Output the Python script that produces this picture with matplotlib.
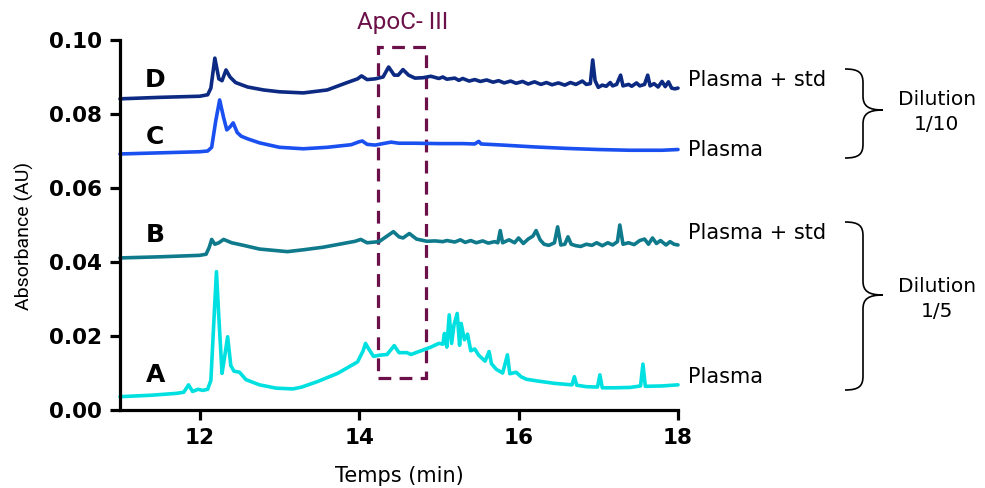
import matplotlib
matplotlib.use("Agg")
import matplotlib.pyplot as plt
from matplotlib.patches import Rectangle, PathPatch
from matplotlib.path import Path

# ---------------- data ----------------
d_time = [11.00, 11.50, 12.00, 12.10, 12.14, 12.19, 12.24, 12.28, 12.33, 12.38, 12.45, 12.60,
          12.80, 13.00, 13.30, 13.60, 13.85, 13.98, 14.03, 14.10, 14.20, 14.30, 14.37, 14.44,
          14.49, 14.55, 14.62, 14.70, 14.80, 14.90, 15.00, 15.05, 15.10, 15.20, 15.25, 15.30,
          15.38, 15.45, 15.52, 15.60, 15.68, 15.75, 15.82, 15.90, 15.97, 16.05, 16.12, 16.20,
          16.28, 16.35, 16.42, 16.50, 16.58, 16.65, 16.72, 16.80, 16.85, 16.90, 16.93, 16.96,
          17.00, 17.05, 17.10, 17.15, 17.18, 17.23, 17.28, 17.31, 17.38, 17.42, 17.48, 17.52,
          17.58, 17.62, 17.65, 17.70, 17.75, 17.80, 17.84, 17.88, 17.92, 17.96, 18.00]
d_abs = [0.0841, 0.0845, 0.0848, 0.0852, 0.0870, 0.0951, 0.0895, 0.0890, 0.0919, 0.0900, 0.0885, 0.0873,
         0.0865, 0.0860, 0.0857, 0.0865, 0.0885, 0.0895, 0.0903, 0.0893, 0.0895, 0.0900, 0.0927, 0.0905,
         0.0905, 0.0920, 0.0905, 0.0897, 0.0898, 0.0902, 0.0896, 0.0900, 0.0894, 0.0897, 0.0891, 0.0896,
         0.0889, 0.0893, 0.0888, 0.0892, 0.0886, 0.0890, 0.0884, 0.0889, 0.0883, 0.0888, 0.0881, 0.0887,
         0.0880, 0.0885, 0.0879, 0.0884, 0.0878, 0.0885, 0.0880, 0.0889, 0.0880, 0.0882, 0.0946, 0.0890,
         0.0872, 0.0878, 0.0875, 0.0885, 0.0876, 0.0880, 0.0905, 0.0876, 0.0880, 0.0875, 0.0884, 0.0876,
         0.0880, 0.0905, 0.0876, 0.0882, 0.0873, 0.0888, 0.0874, 0.0887, 0.0870, 0.0868, 0.0870]

c_time = [11.00, 11.50, 12.00, 12.10, 12.15, 12.20, 12.25, 12.30, 12.34, 12.38, 12.42, 12.47,
          12.52, 12.60, 12.75, 13.00, 13.30, 13.60, 13.90, 14.00, 14.04, 14.10, 14.20, 14.30,
          14.40, 14.50, 14.70, 15.00, 15.30, 15.45, 15.50, 15.53, 15.80, 16.20, 16.60, 17.00,
          17.40, 17.80, 18.00]
c_abs = [0.0692, 0.0695, 0.0698, 0.0700, 0.0710, 0.0780, 0.0838, 0.0790, 0.0757, 0.0765, 0.0776, 0.0750,
         0.0740, 0.0733, 0.0722, 0.0710, 0.0706, 0.0710, 0.0717, 0.0725, 0.0727, 0.0718, 0.0716, 0.0720,
         0.0724, 0.0721, 0.0721, 0.0720, 0.0720, 0.0719, 0.0726, 0.0719, 0.0716, 0.0711, 0.0707, 0.0704,
         0.0702, 0.0702, 0.0704]

b_time = [11.00, 11.50, 12.00, 12.08, 12.12, 12.15, 12.19, 12.24, 12.30, 12.40, 12.55, 12.75,
          13.00, 13.10, 13.30, 13.55, 13.80, 13.95, 14.02, 14.10, 14.25, 14.35, 14.43, 14.50,
          14.55, 14.63, 14.72, 14.85, 14.95, 15.05, 15.10, 15.20, 15.27, 15.33, 15.40, 15.47,
          15.55, 15.62, 15.70, 15.74, 15.77, 15.80, 15.88, 15.95, 16.00, 16.06, 16.12, 16.18,
          16.22, 16.27, 16.32, 16.38, 16.45, 16.49, 16.53, 16.58, 16.62, 16.66, 16.72, 16.78,
          16.85, 16.92, 16.98, 17.05, 17.12, 17.18, 17.24, 17.27, 17.31, 17.38, 17.45, 17.52,
          17.58, 17.63, 17.68, 17.73, 17.78, 17.85, 17.90, 17.95, 18.00]
b_abs = [0.0411, 0.0414, 0.0418, 0.0421, 0.0440, 0.0461, 0.0448, 0.0452, 0.0461, 0.0452, 0.0445, 0.0435,
         0.0430, 0.0428, 0.0433, 0.0440, 0.0450, 0.0456, 0.0461, 0.0452, 0.0455, 0.0470, 0.0482, 0.0468,
         0.0465, 0.0477, 0.0462, 0.0456, 0.0457, 0.0455, 0.0458, 0.0454, 0.0460, 0.0453, 0.0458, 0.0452,
         0.0457, 0.0451, 0.0455, 0.0452, 0.0485, 0.0452, 0.0460, 0.0452, 0.0465, 0.0450, 0.0462, 0.0470,
         0.0485, 0.0460, 0.0448, 0.0445, 0.0452, 0.0495, 0.0446, 0.0448, 0.0468, 0.0448, 0.0444, 0.0442,
         0.0448, 0.0445, 0.0452, 0.0444, 0.0452, 0.0446, 0.0455, 0.0500, 0.0448, 0.0452, 0.0447, 0.0458,
         0.0462, 0.0448, 0.0465, 0.0450, 0.0458, 0.0446, 0.0455, 0.0448, 0.0446]

a_time = [11.00, 11.40, 11.71, 11.80, 11.86, 11.91, 11.98, 12.04, 12.10, 12.14, 12.18, 12.21,
          12.24, 12.28, 12.31, 12.35, 12.39, 12.43, 12.50, 12.58, 12.75, 12.96, 13.17, 13.28,
          13.48, 13.73, 13.98, 14.05, 14.08, 14.12, 14.18, 14.25, 14.35, 14.44, 14.50, 14.60,
          14.65, 14.80, 14.90, 15.00, 15.05, 15.07, 15.10, 15.13, 15.16, 15.19, 15.23, 15.26,
          15.28, 15.32, 15.36, 15.40, 15.45, 15.50, 15.58, 15.63, 15.66, 15.72, 15.80, 15.86,
          15.89, 15.97, 16.03, 16.10, 16.25, 16.45, 16.67, 16.70, 16.73, 16.85, 16.99, 17.02,
          17.05, 17.20, 17.40, 17.53, 17.56, 17.59, 17.80, 18.00]
a_abs = [0.0036, 0.0040, 0.0045, 0.0048, 0.0068, 0.0050, 0.0056, 0.0053, 0.0056, 0.0080, 0.0250, 0.0374,
         0.0250, 0.0099, 0.0140, 0.0198, 0.0120, 0.0105, 0.0102, 0.0082, 0.0068, 0.0059, 0.0057, 0.0062,
         0.0077, 0.0099, 0.0130, 0.0160, 0.0180, 0.0165, 0.0145, 0.0148, 0.0150, 0.0174, 0.0155, 0.0155,
         0.0150, 0.0162, 0.0170, 0.0180, 0.0178, 0.0207, 0.0170, 0.0257, 0.0180, 0.0230, 0.0261, 0.0175,
         0.0234, 0.0190, 0.0205, 0.0160, 0.0165, 0.0148, 0.0132, 0.0158, 0.0125, 0.0110, 0.0100, 0.0149,
         0.0098, 0.0102, 0.0090, 0.0083, 0.0078, 0.0072, 0.0068, 0.0090, 0.0067, 0.0063, 0.0062, 0.0095,
         0.0060, 0.0060, 0.0061, 0.0065, 0.0124, 0.0064, 0.0065, 0.0068]

series_names = ["D", "C", "B", "A"]
series_labels = ["Plasma + std", "Plasma", "Plasma + std", "Plasma"]
series_colors = ["#0c2a82", "#1a4ff0", "#0e7a8c", "#00e0e0"]
letter_y = [0.0892, 0.0738, 0.0473, 0.0095]
label_y = [0.0892, 0.0703, 0.0478, 0.0089]
apoc_window = (14.24, 14.84)
apoc_range = (0.0087, 0.0981)
x_ticks = [12, 14, 16, 18]
y_ticks = [0.00, 0.02, 0.04, 0.06, 0.08, 0.10]

# ---------------- figure ----------------
W, H = 985, 488
fig = plt.figure(figsize=(W / 100, H / 100), dpi=100)
ax = fig.add_axes([120 / W, 1 - 410 / H, 558 / W, 370 / H])

times = [d_time, c_time, b_time, a_time]
values = [d_abs, c_abs, b_abs, a_abs]
for t, v, col in zip(times, values, series_colors):
    ax.plot(t, v, color=col, lw=2.6, solid_joinstyle="round", solid_capstyle="round", clip_on=False)

ax.set_xlim(11, 18)
ax.set_ylim(0, 0.10)
ax.set_xticks(x_ticks)
ax.set_yticks(y_ticks)
ax.set_yticklabels([f"{v:.2f}" for v in y_ticks])
for sp in ["top", "right"]:
    ax.spines[sp].set_visible(False)
for sp in ["left", "bottom"]:
    ax.spines[sp].set_linewidth(2.3)
ax.tick_params(axis="both", length=7, width=2.3, pad=6)
for lab in ax.get_xticklabels() + ax.get_yticklabels():
    lab.set_fontfamily("DejaVu Sans")
    lab.set_fontweight("bold")
    lab.set_fontsize(15.5)

ax.set_xlabel("Temps (min)", fontsize=15, family="DejaVu Sans")
ax.set_ylabel("Absorbance (AU)", fontsize=14, family="Roboto")
ax.xaxis.set_label_coords(0.5, -0.15)
ax.yaxis.set_label_coords(-0.155, 0.47)

# letters and right-hand labels
for name, ly in zip(series_names, letter_y):
    ax.text(11.44, ly, name, fontsize=18, fontweight="bold", family="DejaVu Sans",
            ha="center", va="center")
for lab, ly in zip(series_labels, label_y):
    ax.text(18.12, ly, lab, fontsize=15, family="DejaVu Sans", ha="left", va="center",
            clip_on=False)

# ApoC-III box
apoc_col = "#6b1048"
ax.add_patch(Rectangle((apoc_window[0], apoc_range[0]), apoc_window[1] - apoc_window[0],
                       apoc_range[1] - apoc_range[0], fill=False, edgecolor=apoc_col,
                       lw=2.3, linestyle=(0, (4, 2.6)), clip_on=False))
ax.text(sum(apoc_window) / 2, 0.1046, "ApoC- III", color=apoc_col, fontsize=17.5,
        family="Roboto", ha="center", va="center", clip_on=False)


# braces
def brace(x0, xv, xt, ytop, ym, ybot, r=14):
    pts = [(x0, ytop),
           (x0 + 0.8 * (xv - x0), ytop), (xv, ytop + 0.3 * r), (xv, ytop + r),
           (xv, ym - r),
           (xv, ym - 0.3 * r), (xv + 0.25 * (xt - xv), ym), (xt, ym),
           (xv + 0.25 * (xt - xv), ym), (xv, ym + 0.3 * r), (xv, ym + r),
           (xv, ybot - r),
           (xv, ybot - 0.3 * r), (x0 + 0.8 * (xv - x0), ybot), (x0, ybot)]
    codes = [Path.MOVETO] + [Path.CURVE4] * 3 + [Path.LINETO] + [Path.CURVE4] * 6 + \
            [Path.LINETO] + [Path.CURVE4] * 3
    pts = [(px / W, 1 - py / H) for px, py in pts]
    fig.add_artist(PathPatch(Path(pts, codes), fill=False, lw=1.2, edgecolor="black",
                             transform=fig.transFigure))


brace(845, 863, 883, 69, 110, 158)
brace(845, 863, 883, 222, 295, 390)
fig.text(937 / W, 1 - 112 / H, "Dilution\n1/10", fontsize=14.5, family="DejaVu Sans",
         ha="center", va="center", linespacing=1.45)
fig.text(937 / W, 1 - 299 / H, "Dilution\n1/5", fontsize=14.5, family="DejaVu Sans",
         ha="center", va="center", linespacing=1.45)

fig.savefig("out.png", dpi=100)
